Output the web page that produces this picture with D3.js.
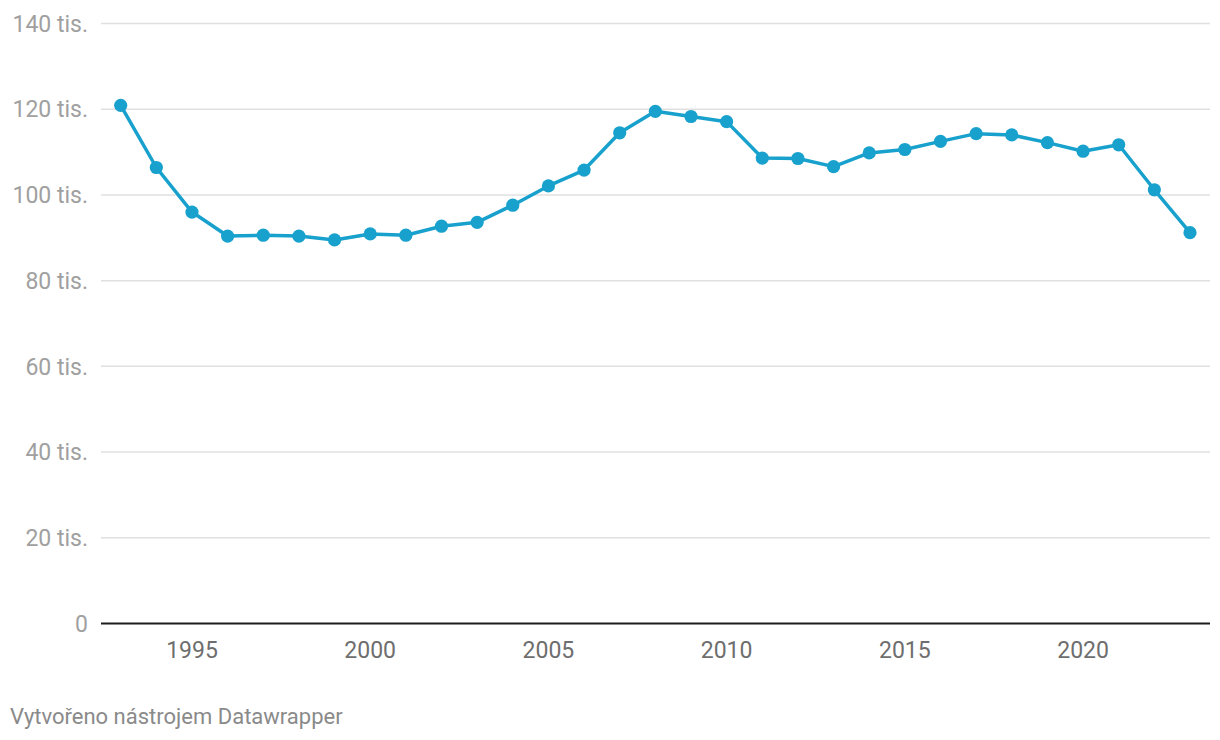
<!DOCTYPE html>
<html>
<head>
<meta charset="utf-8">
<script src="https://cdn.jsdelivr.net/npm/d3@7"></script>
<style>
  body { margin: 0; background: #fff; font-family: Roboto, "Noto Sans", sans-serif; }
  svg { display: block; }
</style>
</head>
<body>
<svg id="chart" width="1220" height="740"></svg>
<script>
// data (thousands)
var years = d3.range(1993, 2024);
var values = [120.9, 106.4, 96.0, 90.4, 90.6, 90.4, 89.5, 90.9, 90.6, 92.7,
              93.6, 97.6, 102.1, 105.8, 114.5, 119.5, 118.3, 117.1, 108.6, 108.5,
              106.6, 109.8, 110.6, 112.5, 114.3, 114.0, 112.2, 110.2, 111.7, 101.2, 91.2];
var yTicks = [0, 20, 40, 60, 80, 100, 120, 140];
var xTicks = [1995, 2000, 2005, 2010, 2015, 2020];

var data = years.map((y, i) => ({year: y, value: values[i]}));

var width = 1220, height = 740;
var plot = {left: 101, right: 1210, top: 23.5, bottom: 623.5};

var chart = d3.select('#chart');

var x = d3.scaleLinear()
    .domain([1993, 2023])
    .range([120.7, 1190]);

var y = d3.scaleLinear()
    .domain([0, 140])
    .range([plot.bottom, plot.top]);

// gridlines + y labels
var grid = chart.append("g");
grid.selectAll("line")
    .data(yTicks.filter(d => d > 0))
    .enter()
    .append("line")
        .attr("x1", plot.left)
        .attr("x2", plot.right)
        .attr("y1", d => y(d))
        .attr("y2", d => y(d))
        .attr("stroke", "#e0e0e0")
        .attr("stroke-width", 1.5);

grid.selectAll("text")
    .data(yTicks)
    .enter()
    .append("text")
        .attr("x", 88)
        .attr("y", d => y(d))
        .attr("dy", "0.36em")
        .attr("text-anchor", "end")
        .attr("fill", "#a0a0a0")
        .style("font-size", "23px")
        .text(d => d === 0 ? "0" : d + " tis.");

// baseline
chart.append("line")
    .attr("x1", plot.left)
    .attr("x2", plot.right)
    .attr("y1", y(0))
    .attr("y2", y(0))
    .attr("stroke", "#1d1d1d")
    .attr("stroke-width", 2);

// x labels
chart.append("g")
    .selectAll("text")
    .data(xTicks)
    .enter()
    .append("text")
        .attr("x", d => x(d))
        .attr("y", 658)
        .attr("text-anchor", "middle")
        .attr("fill", "#6e6e6e")
        .style("font-size", "23px")
        .text(d => d);

// line
var line = d3.line()
    .x(d => x(d.year))
    .y(d => y(d.value));

chart.append("path")
    .datum(data)
    .attr("fill", "none")
    .attr("stroke", "#18a1cd")
    .attr("stroke-width", 3.5)
    .attr("stroke-linejoin", "round")
    .attr("d", line);

chart.append("g")
    .selectAll("circle")
    .data(data)
    .enter()
    .append("circle")
        .attr("cx", d => x(d.year))
        .attr("cy", d => y(d.value))
        .attr("r", 6.6)
        .attr("fill", "#18a1cd");

// footer
chart.append("text")
    .attr("x", 10)
    .attr("y", 724)
    .attr("fill", "#8a8a8a")
    .style("font-size", "22px")
    .text("Vytvořeno nástrojem Datawrapper");
</script>
</body>
</html>
